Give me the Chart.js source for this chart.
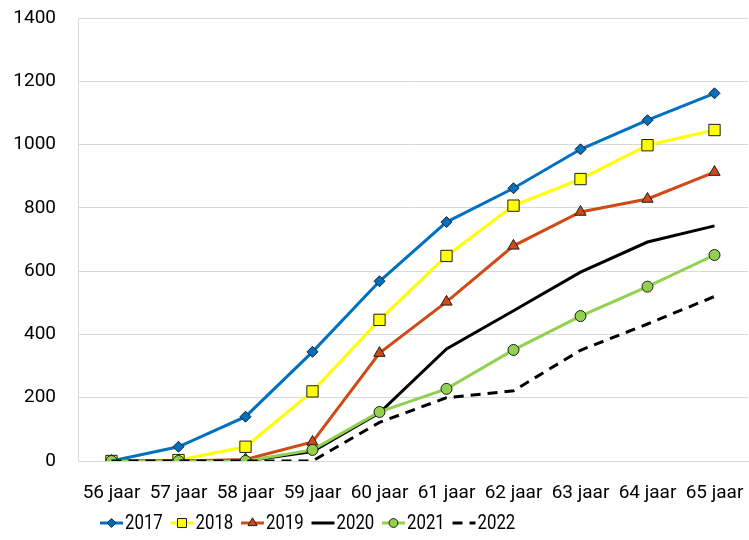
<!DOCTYPE html>
<html lang="nl">
<head>
    <meta charset="UTF-8">
    <title>Aantallen per leeftijd</title>
    <script src="https://cdn.jsdelivr.net/npm/chart.js"></script>
    <style>
        body { margin: 0; padding: 0; background: #fff; }
        #wrap { width: 749px; height: 540px; position: relative; }
    </style>
</head>
<body>
<div id="wrap"><canvas id="chart"></canvas></div>

<script>
    // categories + series values
    const categories = ['56 jaar', '57 jaar', '58 jaar', '59 jaar', '60 jaar', '61 jaar', '62 jaar', '63 jaar', '64 jaar', '65 jaar'];
    const seriesNames = ['2017', '2018', '2019', '2020', '2021', '2022'];
    const v2017 = [0, 45, 140, 345, 568, 755, 862, 985, 1077, 1162];
    const v2018 = [0, 3, 45, 220, 446, 648, 807, 891, 998, 1046];
    const v2019 = [0, 0, 5, 60, 341, 503, 680, 787, 828, 913];
    const v2020 = [0, 0, 0, 30, 152, 354, 475, 597, 692, 743];
    const v2021 = [0, 0, 0, 35, 155, 228, 351, 458, 551, 651];
    const v2022 = [0, 0, 0, 0, 122, 200, 222, 350, 433, 520];
    const yTicks = [0, 200, 400, 600, 800, 1000, 1200, 1400];

    const FONT = 'Roboto, "Noto Sans", sans-serif';
    const markerBorder = '#1e1e1e';

    const styles = [
        { color: '#0070C0', pointStyle: 'rectRot', radius: 5.5, dash: [] },
        { color: '#FFFF00', pointStyle: 'rect', radius: 8, dash: [] },
        { color: '#D04A16', pointStyle: 'triangle', radius: 6.5, dash: [] },
        { color: '#000000', pointStyle: false, radius: 0, dash: [] },
        { color: '#92D050', pointStyle: 'circle', radius: 5.5, dash: [] },
        { color: '#000000', pointStyle: false, radius: 0, dash: [10, 7] }
    ];
    const allValues = [v2017, v2018, v2019, v2020, v2021, v2022];

    const datasets = seriesNames.map((name, i) => ({
        label: name,
        data: allValues[i],
        borderColor: styles[i].color,
        backgroundColor: styles[i].color,
        borderWidth: 3,
        borderDash: styles[i].dash,
        pointStyle: styles[i].pointStyle,
        pointRadius: styles[i].radius,
        pointHoverRadius: styles[i].radius,
        pointBorderColor: markerBorder,
        pointBorderWidth: 1,
        pointBackgroundColor: styles[i].color,
        tension: 0,
        fill: false,
        order: seriesNames.length - i   // later series on top
    }));

    // legend drawn by hand so it sits like the original
    const bottomLegend = {
        id: 'bottomLegend',
        afterDraw(chart) {
            const ctx = chart.ctx;
            const y = 523;
            const x0 = 100, step = 70.5, lineLen = 23;
            ctx.save();
            datasets.forEach((ds, i) => {
                const x = x0 + i * step;
                ctx.beginPath();
                ctx.setLineDash(ds.borderDash);
                ctx.strokeStyle = ds.borderColor;
                ctx.lineWidth = 3;
                ctx.moveTo(x, y);
                ctx.lineTo(x + lineLen, y);
                ctx.stroke();
                ctx.setLineDash([]);
                if (ds.pointStyle) {
                    ctx.fillStyle = ds.pointBackgroundColor;
                    ctx.strokeStyle = markerBorder;
                    ctx.lineWidth = 1;
                    Chart.helpers.drawPoint(ctx, {
                        pointStyle: ds.pointStyle,
                        radius: ds.pointRadius * 0.8,
                        borderWidth: 1,
                        rotation: 0
                    }, x + lineLen / 2, y);
                }
                ctx.save();
                ctx.translate(x + lineLen + 2, y);
                ctx.scale(0.8, 1);
                ctx.fillStyle = '#000';
                ctx.font = '21px ' + FONT;
                ctx.textBaseline = 'middle';
                ctx.textAlign = 'left';
                ctx.fillText(ds.label, 0, 1);
                ctx.restore();
            });
            ctx.restore();
        }
    };

    new Chart(document.getElementById('chart'), {
        type: 'line',
        data: { labels: categories, datasets: datasets },
        options: {
            responsive: true,
            maintainAspectRatio: false,
            animation: false,
            layout: { autoPadding: false, padding: { top: 18, right: 1, bottom: 34, left: 0 } },
            plugins: {
                legend: { display: false },
                tooltip: { enabled: false }
            },
            scales: {
                x: {
                    type: 'category',
                    offset: true,
                    grid: { display: false, drawTicks: false },
                    border: { display: true, color: '#d9d9d9' },
                    ticks: {
                        color: '#000',
                        font: { family: FONT, size: 19 },
                        padding: 21,
                        maxRotation: 0,
                        autoSkip: false
                    },
                    afterFit(scale) {
                        scale.height = 45;
                        scale.paddingLeft = 0;
                        scale.paddingRight = 0;
                    }
                },
                y: {
                    min: 0,
                    max: 1400,
                    afterBuildTicks(scale) { scale.ticks = yTicks.map(v => ({ value: v })); },
                    grid: { color: '#d9d9d9', lineWidth: 1, drawTicks: false },
                    border: { display: true, color: '#d9d9d9' },
                    ticks: {
                        color: '#000',
                        font: { family: FONT, size: 19 },
                        padding: 22,
                        callback: (v) => String(v)
                    },
                    afterFit(scale) {
                        scale.width = 78;
                        scale.paddingTop = 0;
                        scale.paddingBottom = 0;
                    }
                }
            }
        },
        plugins: [bottomLegend]
    });
</script>
</body>
</html>
